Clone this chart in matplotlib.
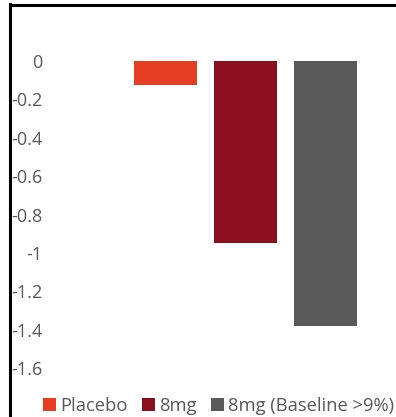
import matplotlib.pyplot as plt
from matplotlib.lines import Line2D

# change from baseline, per group
groups = ['Placebo', '8mg', '8mg (Baseline >9%)']
change = [-0.125, -0.95, -1.38]
colors = ['#e63c22', '#8b0f1d', '#595959']
yticks = [0, -0.2, -0.4, -0.6, -0.8, -1, -1.2, -1.4, -1.6]

plt.rcParams['font.family'] = ['Open Sans', 'DejaVu Sans']
text_col = '#595959'

fig = plt.figure(figsize=(3.96, 4.17), dpi=100)
ax = fig.add_axes([45/396, 20/417, 351/396, 374.4/417])

ax.bar(range(len(groups)), change, width=0.79, color=colors, label=groups)
ax.set_xlim(-1.506, 2.88)
ax.set_ylim(-1.75, 0.2)
ax.set_yticks(yticks)
ax.set_yticklabels(['%g' % v for v in yticks], fontsize=13, color=text_col)
ax.tick_params(axis='y', length=0, pad=2)
ax.set_xticks([])
for s in ax.spines.values():
    s.set_visible(False)

leg = fig.legend(loc='center left', bbox_to_anchor=(43/396, 11/417), ncol=3,
                 frameon=False, fontsize=13.2, handlelength=0.72, handleheight=0.72,
                 handletextpad=0.2, columnspacing=0.8, borderpad=0, borderaxespad=0)
for t in leg.get_texts():
    t.set_color(text_col)

# black frame along the top and left edges
fig.add_artist(Line2D([10/396, 10/396], [0, 1 - 4/417], color='black', lw=2.2,
                      transform=fig.transFigure, solid_capstyle='projecting'))
fig.add_artist(Line2D([10/396, 1], [1 - 5/417, 1 - 5/417], color='black', lw=2.2,
                      transform=fig.transFigure, solid_capstyle='projecting'))

fig.savefig('out.png', dpi=100)
